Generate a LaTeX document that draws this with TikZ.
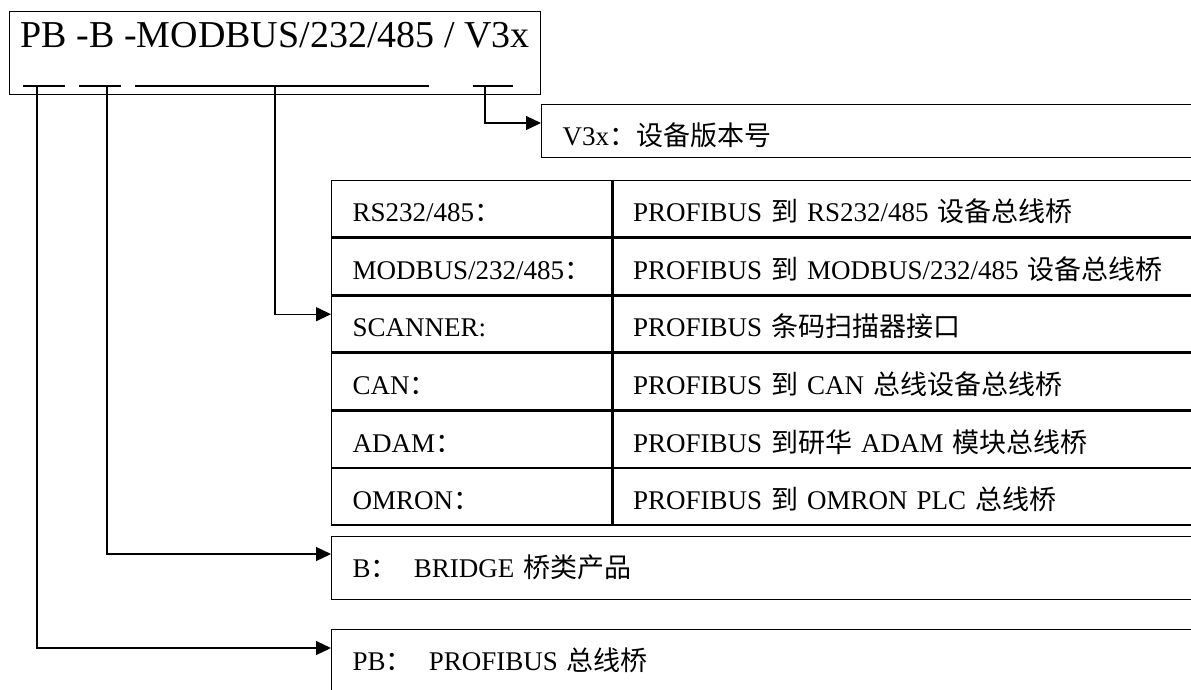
\documentclass[tikz,border=0pt]{standalone}
\usepackage{fontspec}
\setmainfont{Liberation Serif}
\newfontfamily\cjk{Noto Sans CJK SC}
\newcommand{\zh}[1]{{\cjk #1}}
\usetikzlibrary{arrows.meta, positioning}

\begin{document}
\begin{tikzpicture}[x=1pt, y=-1pt, line width=1.4pt,
		every node/.style={inner sep=0pt, font=\fontsize{27}{30}\selectfont},
		infobox/.style={draw, anchor=north west, inner xsep=21pt, text width=900pt, align=left, text height=41pt},
		cellA/.style={draw, anchor=north west, inner xsep=21pt, text width=238pt, align=left, text height=41pt, text depth=15.2pt},
		cellB/.style={draw, anchor=north west, inner xsep=20pt, text width=600pt, align=left, text height=41pt, text depth=15.2pt},
		link/.style={-{Triangle[length=15pt, width=14pt]}, line width=1.2pt}]
		
		\useasboundingbox (0,0) rectangle (1191,689);
		
		% Code box
		\node[draw, anchor=north west, minimum width=531pt, text height=36pt, text depth=47pt, font=\fontsize{38}{40}\selectfont] (code) at (9,11) {PB -B -MODBUS/232/485 / V3x};
		
		\coordinate (pbtick) at (37,86);
		\coordinate (btick) at (107,86);
		\coordinate (modtick) at (275,86);
		\coordinate (vertick) at (485,86);
		\draw[line width=1.2pt] (23,86) -- (65,86) (79,86) -- (121,86) (135,86) -- (429,86) (473,86) -- (513,86);
		
		% Version
		\node[infobox, text depth=12pt] (ver) at (541,104) {V3x\zh{：设备版本号}};
		
		% Table
		\node[cellA] (r1a) at (331,180) {RS232/485\zh{：}};
		\node[cellB] (r1b) at (r1a.north east) {PROFIBUS \zh{到} RS232/485 \zh{设备总线桥}};
		\node[cellA] (r2a) at (r1a.south west) {MODBUS/232/485\zh{：}};
		\node[cellB] (r2b) at (r2a.north east) {PROFIBUS \zh{到} MODBUS/232/485 \zh{设备总线桥}};
		\node[cellA] (r3a) at (r2a.south west) {SCANNER:};
		\node[cellB] (r3b) at (r3a.north east) {PROFIBUS \zh{条码扫描器接口}};
		\node[cellA] (r4a) at (r3a.south west) {CAN\zh{：}};
		\node[cellB] (r4b) at (r4a.north east) {PROFIBUS \zh{到} CAN \zh{总线设备总线桥}};
		\node[cellA] (r5a) at (r4a.south west) {ADAM\zh{：}};
		\node[cellB] (r5b) at (r5a.north east) {PROFIBUS \zh{到研华} ADAM \zh{模块总线桥}};
		\node[cellA] (r6a) at (r5a.south west) {OMRON\zh{：}};
		\node[cellB] (r6b) at (r6a.north east) {PROFIBUS \zh{到} OMRON PLC \zh{总线桥}};
		
		% Bridge and bus
		\node[infobox, text depth=22pt] (bridge) at (331,536) {B\zh{：}\hspace{0.6em}BRIDGE \zh{桥类产品}};
		\node[infobox, text depth=80pt] (bus) at (331,629) {PB\zh{：}\hspace{0.6em}PROFIBUS \zh{总线桥}};
		
		% Edges
		\draw[link] (vertick) |- ([yshift=-19pt]ver.north west);
		\draw[link] (modtick) |- ([yshift=-19pt]r3a.north west);
		\draw[link] (btick) |- ([yshift=-18pt]bridge.north west);
		\draw[link] (pbtick) |- ([yshift=-19pt]bus.north west);
		
	\end{tikzpicture}
\end{document}
